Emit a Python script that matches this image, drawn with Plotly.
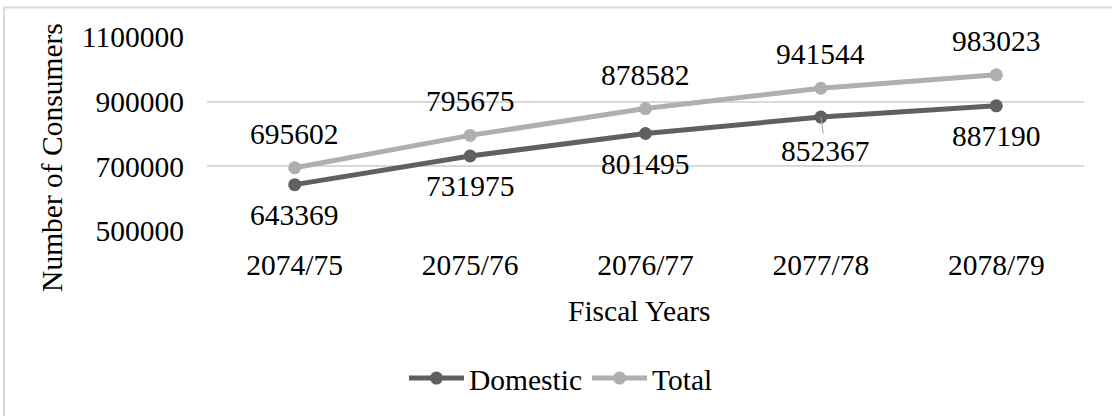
import plotly.graph_objects as go

# Consumer counts by fiscal year
years = ["2074/75", "2075/76", "2076/77", "2077/78", "2078/79"]
domestic = [643369, 731975, 801495, 852367, 887190]
total = [695602, 795675, 878582, 941544, 983023]
y_ticks = [500000, 700000, 900000, 1100000]

FONT = "Liberation Serif, Times New Roman, serif"
FS = 29.5
DOM_COLOR = "#606060"
TOT_COLOR = "#afafaf"
GRID = "#d9d9d9"

fig = go.Figure()
fig.add_trace(go.Scatter(
    x=years, y=domestic, name="Domestic", mode="lines+markers",
    line=dict(color=DOM_COLOR, width=5), marker=dict(size=13, color=DOM_COLOR),
))
fig.add_trace(go.Scatter(
    x=years, y=total, name="Total", mode="lines+markers",
    line=dict(color=TOT_COLOR, width=5), marker=dict(size=13, color=TOT_COLOR),
))

txt_font = dict(family=FONT, size=FS, color="#000")
annotations = []
# Total labels sit above their points
for x, v in zip(years, total):
    annotations.append(dict(x=x, y=v, text=str(v), showarrow=False, yshift=34,
                            font=txt_font))
# Domestic labels sit below; 2077/78 uses a leader line
for x, v in zip(years, domestic):
    if x == "2077/78":
        annotations.append(dict(x=x, y=v, text=str(v), showarrow=True,
                                arrowhead=0, arrowwidth=1, arrowcolor="#a6a6a6",
                                ax=5, ay=34, standoff=0, font=txt_font))
    else:
        annotations.append(dict(x=x, y=v, text=str(v), showarrow=False, yshift=-30,
                                font=txt_font))

# Axis titles
annotations.append(dict(xref="paper", yref="paper", x=0.4937, y=-0.41,
                        xanchor="center", yanchor="middle", showarrow=False,
                        text="Fiscal Years", font=txt_font))
annotations.append(dict(xref="paper", yref="paper", x=-0.176, y=0.38,
                        xanchor="center", yanchor="middle", showarrow=False,
                        textangle=-90, text="Number of Consumers", font=txt_font))

fig.update_layout(
    width=1112, height=416,
    margin=dict(l=207, r=28, t=37, b=181),
    paper_bgcolor="white", plot_bgcolor="white",
    font=dict(family=FONT, size=FS, color="#000"),
    showlegend=True,
    legend=dict(orientation="h", x=0.4036, xanchor="center", y=-0.76, yanchor="middle",
                font=dict(family=FONT, size=FS), itemwidth=55, bgcolor="rgba(0,0,0,0)"),
    annotations=annotations,
    shapes=[dict(type="rect", xref="paper", yref="paper",
                 x0=-0.2315, x1=1.05, y0=-1.0, y1=1.1515,
                 line=dict(color=GRID, width=2), layer="below")],
)
fig.update_xaxes(
    type="category", range=[-0.5, 4.5], showgrid=False, zeroline=False,
    showline=False, ticks="", ticklabelstandoff=13,
    tickfont=dict(family=FONT, size=FS), automargin=False,
)
fig.update_yaxes(
    range=[500000, 1100000], tickvals=y_ticks, ticktext=[str(t) for t in y_ticks],
    showgrid=True, gridcolor=GRID, gridwidth=2, zeroline=False, showline=False,
    ticks="", ticklabelstandoff=22, tickfont=dict(family=FONT, size=FS),
    automargin=False,
)

fig.write_html("out.html")
